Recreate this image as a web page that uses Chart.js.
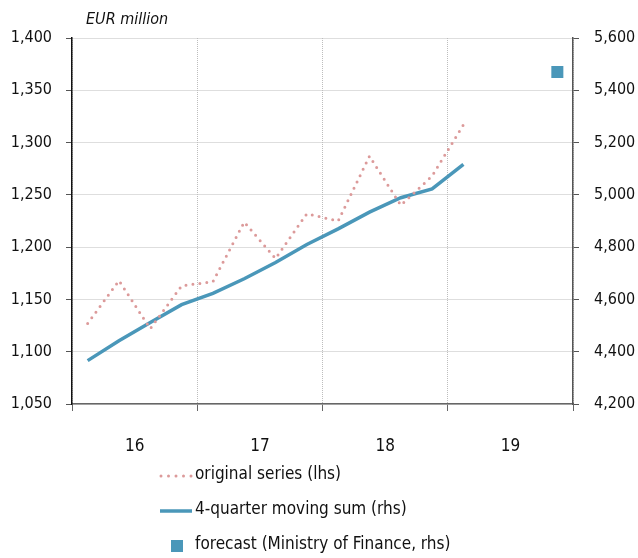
<!DOCTYPE html>
<html>
<head>
<meta charset="utf-8">
<script src="https://cdn.jsdelivr.net/npm/chart.js@4.4.1/dist/chart.umd.min.js"></script>
<style>
  html, body { margin: 0; padding: 0; background: #fff; }
  #wrap { width: 638px; height: 558px; position: relative; }
</style>
</head>
<body>
<div id="wrap"><canvas id="c" width="638" height="558"></canvas></div>
<script>
// Years on the time axis (quarterly data, 2016Q1 onwards)
const years = ['16', '17', '18', '19'];

// Quarterly revenue, EUR million (left axis)
const originalSeries = [1127, 1168, 1122, 1163, 1167, 1224, 1189, 1232, 1225, 1287, 1240, 1268, 1317];

// 4-quarter moving sum, EUR million (right axis)
const movingSum = [4366, 4442, 4512, 4580, 4623, 4679, 4741, 4810, 4870, 4934, 4989, 5023, 5117];

// Ministry of Finance forecast for the full year 2019 (right axis), shown in Q4 2019
const forecastQuarterIndex = 15;
const forecastValue = 5470;

// Axis tick values
const leftTicks = [1050, 1100, 1150, 1200, 1250, 1300, 1350, 1400];
const rightTicks = [4200, 4400, 4600, 4800, 5000, 5200, 5400, 5600];

const seriesLabels = ['original series (lhs)', '4-quarter moving sum (rhs)', 'forecast (Ministry of Finance, rhs)'];

const FONT = "'Liberation Sans Narrow', 'DejaVu Sans Condensed', 'Roboto Condensed', sans-serif";
const PINK = '#dc9a9a';
const BLUE = '#4a97b9';
const GRID = '#bdbdbd';

// each quarter sits in the middle of its slot on the linear x scale
const toPoints = arr => arr.map((v, i) => ({ x: i + 0.5, y: v }));

const fmt = v => v.toLocaleString('en-US');

// Legend and unit label drawn under/over the plot
const extras = {
  id: 'extras',
  afterDraw(chart) {
    const ctx = chart.ctx;
    const area = chart.chartArea;
    ctx.save();
    ctx.fillStyle = '#111';
    ctx.font = "italic 16px " + FONT;
    ctx.textBaseline = 'middle';
    ctx.textAlign = 'left';
    ctx.fillText('EUR million', area.left + 14, 20);

    const ds = chart.data.datasets;
    const rows = [476, 511, 546];
    const sx = 160, tx = 195;
    ctx.font = "17px " + FONT;
    // dotted sample
    ctx.strokeStyle = ds[0].borderColor;
    ctx.lineWidth = 3;
    ctx.lineCap = 'round';
    ctx.setLineDash([0, 7.5]);
    ctx.beginPath(); ctx.moveTo(sx + 1, rows[0]); ctx.lineTo(sx + 32, rows[0]); ctx.stroke();
    // solid sample
    ctx.setLineDash([]);
    ctx.lineCap = 'butt';
    ctx.strokeStyle = ds[1].borderColor;
    ctx.lineWidth = 3.5;
    ctx.beginPath(); ctx.moveTo(sx, rows[1]); ctx.lineTo(sx + 32, rows[1]); ctx.stroke();
    // square sample
    ctx.fillStyle = ds[2].backgroundColor;
    ctx.fillRect(171, rows[2] - 6, 12, 12);

    ctx.fillStyle = '#111';
    ds.forEach((d, i) => ctx.fillText(d.label, tx, rows[i] - 1));
    ctx.restore();
  }
};

new Chart(document.getElementById('c'), {
  type: 'line',
  data: {
    datasets: [
      {
        label: seriesLabels[0],
        data: toPoints(originalSeries),
        yAxisID: 'y',
        borderColor: PINK,
        backgroundColor: PINK,
        borderWidth: 3,
        borderDash: [0, 7],
        borderCapStyle: 'round',
        pointRadius: 0,
        tension: 0,
        fill: false
      },
      {
        label: seriesLabels[1],
        data: toPoints(movingSum),
        yAxisID: 'y1',
        borderColor: BLUE,
        backgroundColor: BLUE,
        borderWidth: 3.5,
        pointRadius: 0,
        tension: 0,
        fill: false
      },
      {
        label: seriesLabels[2],
        data: [{ x: forecastQuarterIndex + 0.5, y: forecastValue }],
        yAxisID: 'y1',
        showLine: false,
        pointStyle: 'rect',
        pointRadius: 8.5,
        pointBorderWidth: 0,
        borderColor: BLUE,
        backgroundColor: BLUE
      }
    ]
  },
  options: {
    responsive: false,
    animation: false,
    devicePixelRatio: 1,
    layout: { padding: { top: 38, left: 0, right: 0, bottom: 0 } },
    plugins: { legend: { display: false }, tooltip: { enabled: false } },
    scales: {
      x: {
        type: 'linear',
        min: 0,
        max: years.length * 4,
        afterBuildTicks: s => { s.ticks = []; for (let v = 0; v <= years.length * 4; v += 2) s.ticks.push({ value: v }); },
        afterFit: s => { s.height = 154; },
        ticks: {
          autoSkip: false,
          maxRotation: 0,
          padding: 25,
          color: '#111',
          font: { family: FONT, size: 17 },
          callback: v => (v % 4 === 2 ? years[(v - 2) / 4] : '')
        },
        grid: {
          color: c => (c.tick && c.tick.value % 4 === 0 ? GRID : 'rgba(0,0,0,0)'),
          tickColor: c => (c.tick && c.tick.value % 4 === 0 ? '#666' : 'rgba(0,0,0,0)'),
          lineWidth: 1,
          tickLength: 7,
          tickBorderDash: [],
          drawOnChartArea: true
        },
        border: { display: true, color: '#666', width: 1.5, dash: [1, 1] }
      },
      y: {
        position: 'left',
        min: 1050,
        max: 1400,
        afterBuildTicks: s => { s.ticks = leftTicks.map(v => ({ value: v })); },
        afterFit: s => { s.width = 72; },
        ticks: {
          padding: 14,
          color: '#111',
          font: { family: FONT, size: 16 },
          callback: v => fmt(v)
        },
        grid: {
          color: GRID,
          tickColor: '#555',
          lineWidth: 1,
          tickLength: 6,
          tickBorderDash: []
        },
        border: { display: true, color: '#111', width: 1.5, dash: [1, 1] }
      },
      y1: {
        position: 'right',
        min: 4200,
        max: 5600,
        afterBuildTicks: s => { s.ticks = rightTicks.map(v => ({ value: v })); },
        afterFit: s => { s.width = 65; },
        ticks: {
          padding: 15,
          color: '#111',
          font: { family: FONT, size: 16 },
          callback: v => fmt(v)
        },
        grid: {
          drawOnChartArea: false,
          tickColor: '#555',
          tickLength: 6
        },
        border: { display: true, color: '#555', width: 1.5 }
      }
    }
  },
  plugins: [extras]
});
</script>
</body>
</html>
